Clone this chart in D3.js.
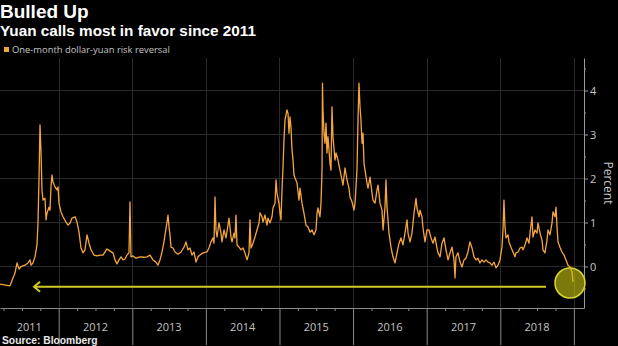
<!DOCTYPE html>
<html><head><meta charset="utf-8">
<script src="https://cdn.jsdelivr.net/npm/d3@7"></script>
<style>html,body{margin:0;padding:0;background:#000;} svg{display:block}</style>
</head><body><svg id="c" width="618" height="346"></svg>
<script>
// decimal years of each reading
const dates = [2011.203,2011.338,2011.352,2011.379,2011.406,2011.434,2011.461,2011.488,2011.542,2011.583,2011.610,2011.624,2011.651,2011.678,2011.705,2011.719,2011.732,2011.746,2011.760,2011.773,2011.787,2011.814,2011.828,2011.841,2011.868,2011.882,2011.895,2011.909,2011.923,2011.950,2011.977,2011.991,2012.004,2012.031,2012.059,2012.099,2012.126,2012.154,2012.181,2012.222,2012.249,2012.276,2012.303,2012.330,2012.357,2012.385,2012.412,2012.439,2012.480,2012.520,
2012.561,2012.602,2012.656,2012.697,2012.738,2012.765,2012.792,2012.819,2012.847,2012.874,2012.901,2012.928,2012.955,2012.969,2012.982,2013.010,2013.050,2013.105,2013.159,2013.200,2013.241,2013.281,2013.322,2013.349,2013.376,2013.404,2013.431,2013.444,2013.472,2013.485,2013.499,2013.512,2013.526,2013.553,2013.580,2013.621,2013.662,2013.703,2013.730,2013.757,2013.784,2013.811,2013.838,2013.866,2013.893,
2013.920,2013.961,2014.015,2014.042,2014.069,2014.097,2014.110,2014.124,2014.137,2014.151,2014.178,2014.205,2014.219,2014.246,2014.273,2014.300,2014.314,2014.341,2014.355,2014.382,2014.395,2014.409,2014.423,2014.450,2014.477,2014.504,2014.531,2014.559,2014.586,2014.599,2014.613,2014.640,2014.667,2014.694,2014.722,2014.735,2014.762,2014.776,2014.803,2014.830,2014.844,2014.871,2014.898,2014.912,2014.939,2014.953,2014.966,2014.993,2015.007,2015.020,2015.034,2015.048,2015.061,2015.075,2015.102,2015.116,2015.129,2015.143,2015.156,2015.170,2015.184,2015.197,2015.211,2015.238,2015.265,
2015.279,2015.306,2015.333,2015.360,2015.388,2015.415,2015.442,2015.469,2015.496,2015.510,2015.523,2015.550,2015.564,2015.578,2015.584,2015.591,2015.605,2015.618,2015.632,2015.645,2015.659,2015.686,2015.700,2015.713,2015.727,2015.754,2015.768,2015.795,2015.822,2015.849,2015.863,2015.890,2015.917,2015.944,2015.958,2015.985,2016.012,2016.026,2016.053,2016.067,2016.080,2016.094,2016.107,2016.121,2016.135,2016.148,2016.162,2016.189,2016.203,2016.230,2016.257,2016.271,2016.298,2016.325,2016.339,2016.366,2016.393,2016.407,2016.434,2016.447,2016.461,2016.488,
2016.515,2016.542,2016.570,2016.597,2016.624,2016.651,2016.678,2016.705,2016.733,2016.746,2016.773,2016.800,2016.828,2016.855,2016.868,2016.896,2016.909,2016.936,2016.950,2016.977,2017.004,2017.031,2017.059,2017.086,2017.113,2017.140,2017.154,2017.181,2017.208,2017.235,2017.262,2017.290,2017.317,2017.344,2017.371,2017.385,2017.398,2017.425,2017.453,2017.480,2017.507,2017.534,2017.561,2017.588,2017.616,2017.643,2017.670,2017.697,
2017.724,2017.751,2017.779,2017.806,2017.833,2017.860,2017.887,2017.915,2017.942,2017.969,2017.996,2018.023,2018.037,2018.050,2018.064,2018.078,2018.105,2018.118,2018.145,2018.173,2018.200,2018.213,2018.241,2018.268,2018.295,2018.309,2018.336,2018.363,2018.390,2018.404,2018.431,2018.444,2018.472,2018.499,2018.512,2018.540,2018.567,2018.580,2018.607,2018.635,2018.648,2018.675,2018.703,2018.716,2018.743,2018.757,2018.771,2018.784,2018.811,2018.838,2018.866,2018.893,2018.920,2018.947,2018.974,2018.988];
// one-month dollar-yuan risk reversal, percent
const values = [-0.40,-0.44,-0.38,-0.26,-0.15,0.08,-0.06,0.00,0.03,0.08,0.15,0.03,0.08,0.22,0.49,1.00,1.96,3.22,2.58,1.74,1.51,1.55,1.06,1.21,1.35,1.28,1.81,2.08,1.92,1.81,1.74,1.81,1.44,1.24,1.13,1.01,0.94,0.99,1.10,1.13,1.01,0.78,0.42,0.31,0.38,0.72,0.53,0.38,0.26,0.24,
0.26,0.26,0.40,0.35,0.31,0.15,0.06,0.15,0.22,0.15,0.17,0.26,0.31,1.47,0.22,0.24,0.19,0.22,0.21,0.22,0.26,0.15,0.10,0.03,0.15,0.33,0.56,0.72,1.01,1.17,0.90,0.72,0.44,0.42,0.33,0.28,0.33,0.44,0.56,0.38,0.42,0.26,0.33,0.10,0.22,
0.26,0.31,0.33,0.42,0.56,0.65,0.53,1.58,0.83,0.67,0.99,0.76,0.56,0.83,0.65,0.94,1.10,0.67,0.56,0.76,0.65,1.17,0.49,0.44,0.38,0.42,0.31,0.15,0.31,1.06,0.42,0.53,0.67,0.83,0.99,1.22,1.13,1.01,1.17,0.94,1.10,0.99,1.13,1.33,1.44,1.97,1.67,1.44,1.22,1.06,1.74,2.26,2.88,3.33,3.56,3.48,3.03,3.40,3.17,2.65,2.42,2.08,2.01,1.90,1.51,
1.78,1.44,1.21,0.94,0.90,0.78,0.83,0.72,0.83,1.21,1.33,1.13,1.44,2.19,4.17,3.56,3.03,2.80,3.26,2.58,2.95,2.35,2.19,3.63,2.95,2.42,2.58,2.42,2.19,1.97,1.85,2.24,1.97,1.78,1.58,1.47,1.28,1.44,2.19,3.33,4.17,3.63,3.33,2.80,3.03,2.35,2.19,1.90,1.78,2.03,1.67,1.51,1.44,1.74,1.85,1.44,1.28,0.83,1.35,1.97,1.35,0.76,
0.44,0.22,0.08,0.31,0.53,0.65,0.49,0.76,1.06,0.76,0.56,0.76,1.21,1.55,1.33,1.13,1.28,1.13,0.87,0.56,0.83,0.83,0.65,0.53,0.67,0.42,0.31,0.22,0.53,0.65,0.38,0.15,0.31,0.44,0.15,-0.26,0.22,0.31,0.10,-0.01,0.15,0.19,0.33,0.56,0.42,0.22,0.15,0.19,
0.08,0.15,0.10,0.15,0.10,0.08,0.03,0.10,-0.03,0.03,0.15,0.44,0.83,1.51,0.90,0.65,0.72,0.56,0.44,0.33,0.22,0.31,0.33,0.42,0.44,0.38,0.49,0.65,0.53,0.76,1.13,0.67,0.83,0.76,0.99,0.76,0.60,0.38,0.31,0.60,0.83,0.72,0.99,1.24,1.13,1.35,0.90,0.56,0.44,0.33,0.26,0.15,0.03,-0.01,-0.12,-0.35];
const yearLabels = ["2011","2012","2013","2014","2015","2016","2017","2018"];
const yTicks = [0,1,2,3,4];
const seriesName = "One-month dollar-yuan risk reversal";

const W = 618, H = 346;
const svg = d3.select("#c");
svg.append("rect").attr("width", W).attr("height", H).attr("fill", "#000");

const x = d3.scaleLinear().domain([2011.2025, 2019.1375]).range([0, 584]);
const y = d3.scaleLinear().domain([-0.943, 4.739]).range([308, 58]);
const yearStarts = d3.range(2012, 2020);
const quarters = d3.range(2011.25, 2019.01, 0.25).filter(q => q % 1 !== 0);
const font = "'Open Sans', sans-serif";
const headFont = "'Liberation Sans', Arial, sans-serif";

// gridlines
const grid = svg.append("g");
grid.selectAll(".hg").data(yTicks).join("line")
  .attr("x1", 0).attr("x2", 584).attr("y1", d => y(d)).attr("y2", d => y(d))
  .attr("stroke", "#2b2b2b").attr("stroke-width", 1);
grid.selectAll(".vg").data(yearStarts).join("line")
  .attr("x1", d => Math.round(x(d)) + 0.5).attr("x2", d => Math.round(x(d)) + 0.5)
  .attr("y1", 58).attr("y2", 308)
  .attr("stroke", "#2b2b2b").attr("stroke-width", 1);

// bottom axis: long year dividers and minor quarter ticks
const xAxis = svg.append("g").attr("transform", "translate(0,308)")
  .call(d3.axisBottom(x).tickValues(yearStarts).tickSize(37).tickSizeOuter(0).tickFormat(""));
const xMinor = svg.append("g").attr("transform", "translate(0,308)")
  .call(d3.axisBottom(x).tickValues(quarters).tickSize(3).tickSizeOuter(0).tickFormat(""));
[xAxis, xMinor].forEach(g => g.selectAll("path,line").attr("stroke", "#8a8a8a"));
xMinor.select(".domain").remove();

// year labels centred in the visible part of each year
svg.append("g").selectAll("text").data(yearLabels).join("text")
  .attr("x", d => (Math.max(x(+d), 0) + Math.min(x(+d + 1), 584)) / 2)
  .attr("y", 331)
  .attr("text-anchor", "middle")
  .attr("fill", "#c4c4c4")
  .attr("font-family", font)
  .attr("font-size", 11)
  .text(d => d);

// right axis
const yAxis = svg.append("g").attr("transform", "translate(584,0)")
  .call(d3.axisRight(y).tickValues(yTicks).tickSize(4).tickSizeOuter(0).tickFormat(d3.format("d")));
const yMinor = svg.append("g").attr("transform", "translate(584,0)")
  .call(d3.axisRight(y).tickValues(d3.range(-0.5, 4.6, 1)).tickSize(2).tickSizeOuter(0).tickFormat(""));
yMinor.select(".domain").remove();
[yAxis, yMinor].forEach(g => g.selectAll("path,line").attr("stroke", "#9a9a9a"));
yAxis.selectAll("text").attr("fill", "#c8c8c8").attr("font-size", 11)
  .attr("font-family", font).attr("x", 6);

svg.append("text")
  .attr("transform", `translate(604,${y(1.9)}) rotate(90)`)
  .attr("text-anchor", "middle")
  .attr("fill", "#c8c8c8")
  .attr("font-family", font)
  .attr("font-size", 12)
  .text("Percent");

// series
const pts = dates.map((d, i) => [d, values[i]]);
svg.append("path").datum(pts)
  .attr("fill", "none")
  .attr("stroke", "#f6a53e")
  .attr("stroke-width", 1.3)
  .attr("stroke-linejoin", "round")
  .attr("d", d3.line().x(d => x(d[0])).y(d => y(d[1])));

// annotation: arrow back to 2011 and circle on latest reading
const ay = y(-0.46);
const ann = svg.append("g").attr("stroke", "#d0ca26").attr("stroke-width", 2).attr("fill", "none");
ann.append("line").attr("x1", x(2011.665)).attr("x2", x(2018.621)).attr("y1", ay).attr("y2", ay);
ann.append("path").attr("d", `M${x(2011.665) + 6},${ay - 5} L${x(2011.665)},${ay} L${x(2011.665) + 6},${ay + 5}`);
svg.append("circle").attr("cx", x(2018.947)).attr("cy", y(-0.375)).attr("r", 15)
  .attr("fill", "rgba(200,196,20,0.62)").attr("stroke", "#dcd63a").attr("stroke-width", 1.5);

// titles and legend
svg.append("text").attr("x", 0).attr("y", 18).attr("fill", "#fff")
  .attr("font-family", headFont).attr("font-weight", 700).attr("font-size", 19).text("Bulled Up");
svg.append("text").attr("x", 0).attr("y", 36).attr("fill", "#fff")
  .attr("font-family", headFont).attr("font-weight", 700).attr("font-size", 15.3).text("Yuan calls most in favor since 2011");
svg.append("rect").attr("x", 4).attr("y", 47).attr("width", 5).attr("height", 5).attr("fill", "#f6a53e");
svg.append("text").attr("x", 12).attr("y", 53).attr("fill", "#c4c4c4")
  .attr("font-family", font).attr("font-size", 9.4).text(seriesName);
svg.append("text").attr("x", 2).attr("y", 343.5).attr("fill", "#e6e6e6")
  .attr("font-family", headFont).attr("font-weight", 700).attr("font-size", 10.3).text("Source: Bloomberg");
</script></body></html>
